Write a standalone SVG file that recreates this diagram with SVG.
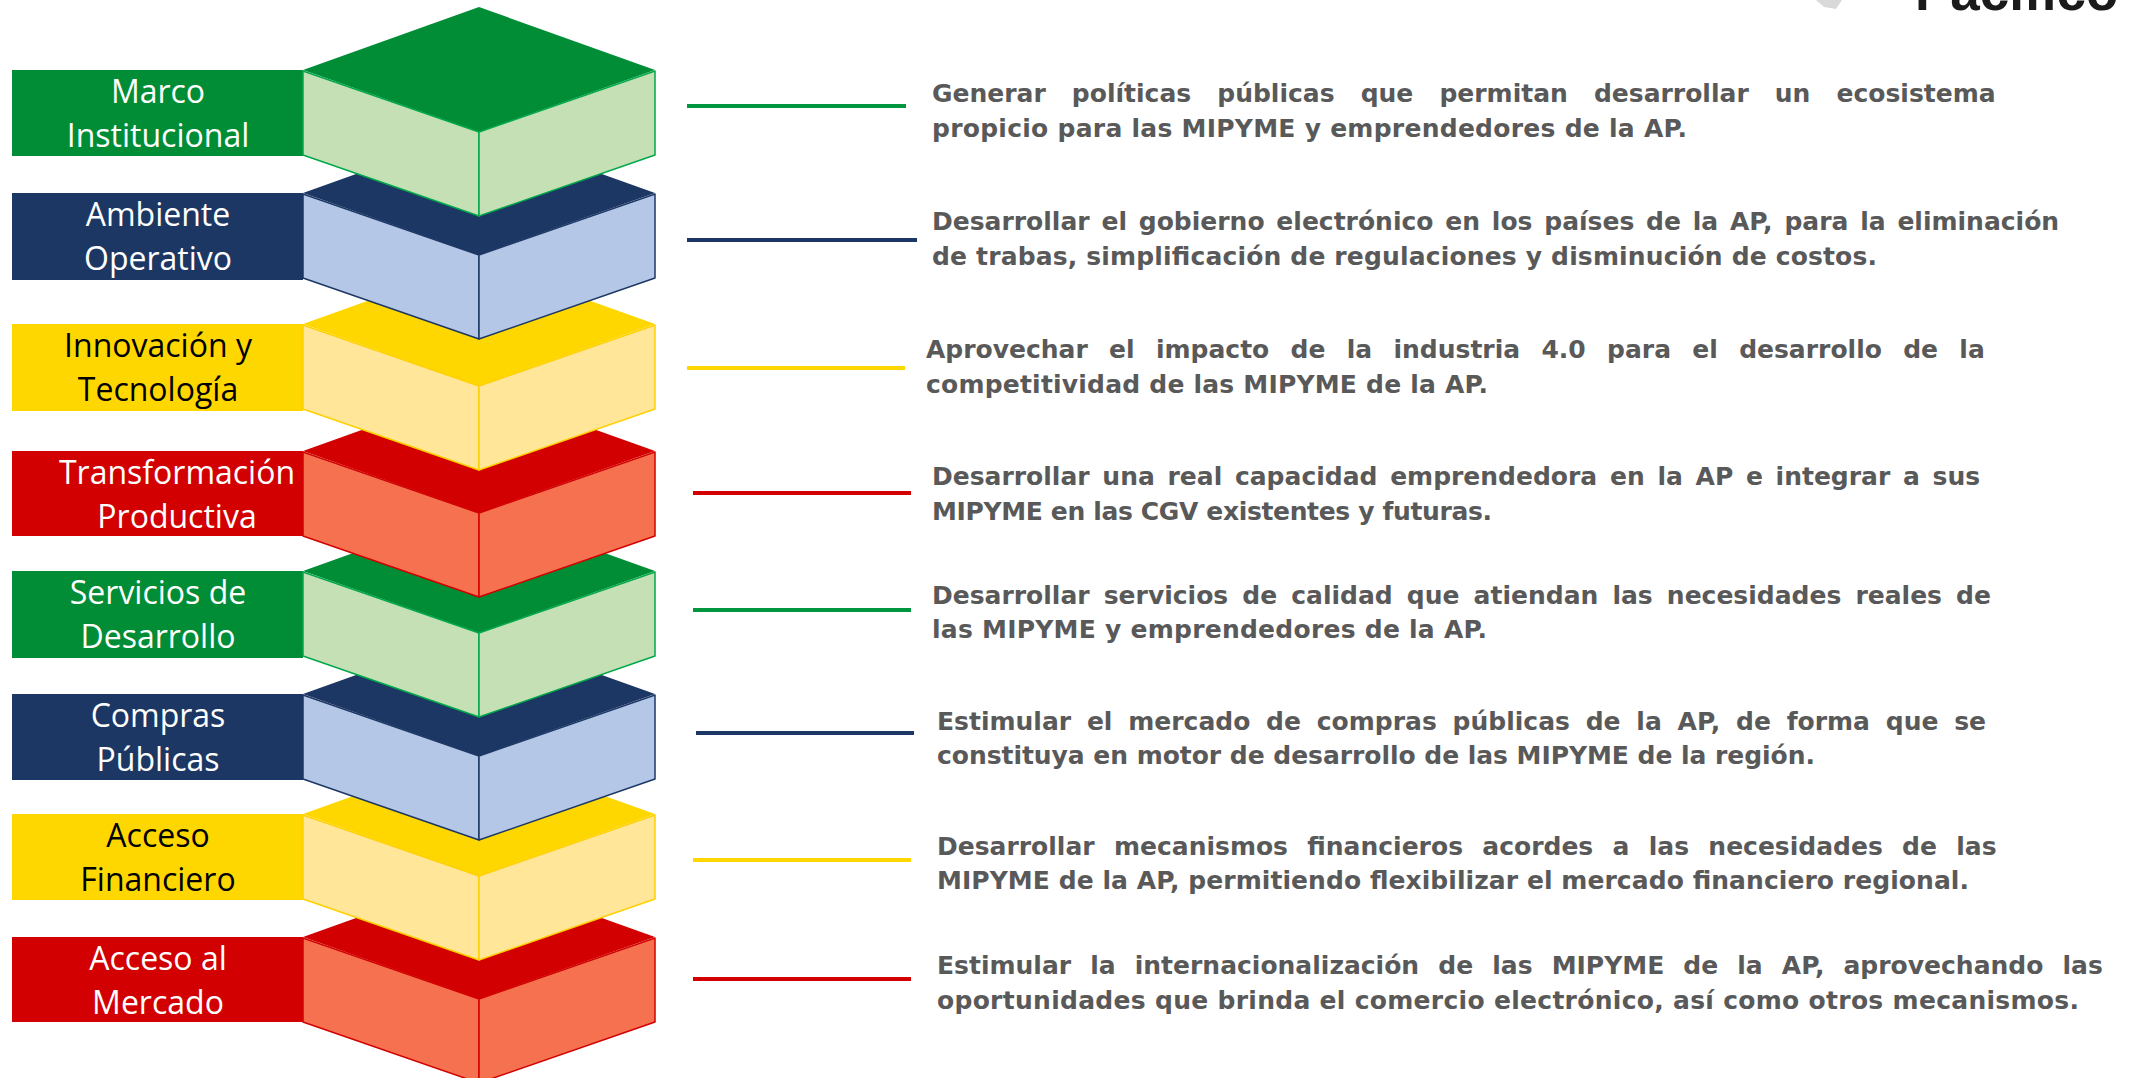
<svg xmlns="http://www.w3.org/2000/svg" width="2133" height="1078" viewBox="0 0 2133 1078">
<style>
.lbl{font-family:"Open Sans","Liberation Sans",sans-serif;font-size:32px;text-anchor:middle}
.w{fill:#ffffff}.k{fill:#000000}
.desc{font-family:"DejaVu Sans","Liberation Sans",sans-serif;font-weight:bold;font-size:25px;fill:#595959}
.side{stroke-width:1.5;stroke-linejoin:round}
.gD{fill:#008D36}.gL{fill:#C5E0B4;stroke:#00A84A}
.nD{fill:#1C3764}.nL{fill:#B4C7E7;stroke:#1C3764}
.yD{fill:#FFD700}.yL{fill:#FFE699;stroke:#FFD000}
.rD{fill:#D20000}.rL{fill:#F5714F;stroke:#D20000}
.conn line{stroke-width:4;fill:none}
</style>
<defs>
<polygon id="topF" points="303,0 479,-63 655,0 479,62"/>
<polygon id="leftF" points="303,1 479,62 479,146 303,85"/>
<polygon id="rightF" points="655,1 479,62 479,146 655,85"/>
</defs>

<g id="logo-fragment">
<polygon points="1816,0 1842,0 1836,9 1824,7" fill="#d9d9d9"/>
<text x="1915" y="10" font-family="Liberation Sans, Arial, sans-serif" font-weight="bold" font-size="53" fill="#1a1a1a">Pacífico</text>
</g>

<g id="node-acceso-mercado" transform="translate(0,937)">
<rect x="12" y="0" width="291" height="85" class="rD"/>
<text class="lbl w" x="158" y="33">Acceso al</text>
<text class="lbl w" x="158" y="77">Mercado</text>
<use href="#topF" class="rD"/><use href="#leftF" class="rL side"/><use href="#rightF" class="rL side"/>
</g>
<g id="node-acceso-financiero" transform="translate(0,814)">
<rect x="12" y="0" width="291" height="86" class="yD"/>
<text class="lbl k" x="158" y="33">Acceso</text>
<text class="lbl k" x="158" y="77">Financiero</text>
<use href="#topF" class="yD"/><use href="#leftF" class="yL side"/><use href="#rightF" class="yL side"/>
</g>
<g id="node-compras-publicas" transform="translate(0,694)">
<rect x="12" y="0" width="291" height="86" class="nD"/>
<text class="lbl w" x="158" y="33">Compras</text>
<text class="lbl w" x="158" y="77">Públicas</text>
<use href="#topF" class="nD"/><use href="#leftF" class="nL side"/><use href="#rightF" class="nL side"/>
</g>
<g id="node-servicios-desarrollo" transform="translate(0,571)">
<rect x="12" y="0" width="291" height="87" class="gD"/>
<text class="lbl w" x="158" y="33">Servicios de</text>
<text class="lbl w" x="158" y="77">Desarrollo</text>
<use href="#topF" class="gD"/><use href="#leftF" class="gL side"/><use href="#rightF" class="gL side"/>
</g>
<g id="node-transformacion-productiva" transform="translate(0,451)">
<rect x="12" y="0" width="291" height="85" class="rD"/>
<text class="lbl w" x="177" y="33">Transformación</text>
<text class="lbl w" x="177" y="77">Productiva</text>
<use href="#topF" class="rD"/><use href="#leftF" class="rL side"/><use href="#rightF" class="rL side"/>
</g>
<g id="node-innovacion-tecnologia" transform="translate(0,324)">
<rect x="12" y="0" width="291" height="87" class="yD"/>
<text class="lbl k" x="158" y="33">Innovación y</text>
<text class="lbl k" x="158" y="77">Tecnología</text>
<use href="#topF" class="yD"/><use href="#leftF" class="yL side"/><use href="#rightF" class="yL side"/>
</g>
<g id="node-ambiente-operativo" transform="translate(0,193)">
<rect x="12" y="0" width="291" height="87" class="nD"/>
<text class="lbl w" x="158" y="33">Ambiente</text>
<text class="lbl w" x="158" y="77">Operativo</text>
<use href="#topF" class="nD"/><use href="#leftF" class="nL side"/><use href="#rightF" class="nL side"/>
</g>
<g id="node-marco-institucional" transform="translate(0,70)">
<rect x="12" y="0" width="291" height="86" class="gD"/>
<text class="lbl w" x="158" y="33">Marco</text>
<text class="lbl w" x="158" y="77">Institucional</text>
<use href="#topF" class="gD"/><use href="#leftF" class="gL side"/><use href="#rightF" class="gL side"/>
</g>

<g id="connectors" class="conn">
<line x1="687" y1="106" x2="906" y2="106" stroke="#00963F"/>
<line x1="687" y1="240" x2="917" y2="240" stroke="#1C3764"/>
<line x1="687" y1="368" x2="905" y2="368" stroke="#FFD700"/>
<line x1="693" y1="493" x2="911" y2="493" stroke="#D20000"/>
<line x1="693" y1="610" x2="911" y2="610" stroke="#00963F"/>
<line x1="696" y1="733" x2="914" y2="733" stroke="#1C3764"/>
<line x1="693" y1="860" x2="911" y2="860" stroke="#FFD700"/>
<line x1="693" y1="979" x2="911" y2="979" stroke="#D20000"/>
</g>

<g id="desc-marco-institucional" class="desc">
<text x="932" y="102" word-spacing="17.4">Generar políticas públicas que permitan desarrollar un ecosistema</text>
<text x="932" y="136.5" textLength="755" lengthAdjust="spacing">propicio para las MIPYME y emprendedores de la AP.</text>
</g>
<g id="desc-ambiente-operativo" class="desc">
<text x="932" y="230" word-spacing="3.1">Desarrollar el gobierno electrónico en los países de la AP, para la eliminación</text>
<text x="932" y="265" textLength="945" lengthAdjust="spacing">de trabas, simplificación de regulaciones y disminución de costos.</text>
</g>
<g id="desc-innovacion-tecnologia" class="desc">
<text x="926" y="357.5" word-spacing="12.6">Aprovechar el impacto de la industria 4.0 para el desarrollo de la</text>
<text x="926" y="392.5" textLength="562" lengthAdjust="spacing">competitividad de las MIPYME de la AP.</text>
</g>
<g id="desc-transformacion-productiva" class="desc">
<text x="932" y="485" word-spacing="4">Desarrollar una real capacidad emprendedora en la AP e integrar a sus</text>
<text x="932" y="519.5" textLength="560" lengthAdjust="spacing">MIPYME en las CGV existentes y futuras.</text>
</g>
<g id="desc-servicios-desarrollo" class="desc">
<text x="932" y="603.5" word-spacing="5.4">Desarrollar servicios de calidad que atiendan las necesidades reales de</text>
<text x="932" y="638" textLength="555" lengthAdjust="spacing">las MIPYME y emprendedores de la AP.</text>
</g>
<g id="desc-compras-publicas" class="desc">
<text x="937" y="729.5" word-spacing="7.1">Estimular el mercado de compras públicas de la AP, de forma que se</text>
<text x="937" y="764" textLength="878" lengthAdjust="spacing">constituya en motor de desarrollo de las MIPYME de la región.</text>
</g>
<g id="desc-acceso-financiero" class="desc">
<text x="937" y="854.5" word-spacing="10.6">Desarrollar mecanismos financieros acordes a las necesidades de las</text>
<text x="937" y="889" textLength="1032" lengthAdjust="spacing">MIPYME de la AP, permitiendo flexibilizar el mercado financiero regional.</text>
</g>
<g id="desc-acceso-mercado" class="desc">
<text x="937" y="974" word-spacing="10.4">Estimular la internacionalización de las MIPYME de la AP, aprovechando las</text>
<text x="937" y="1009" textLength="1142" lengthAdjust="spacing">oportunidades que brinda el comercio electrónico, así como otros mecanismos.</text>
</g>
</svg>
